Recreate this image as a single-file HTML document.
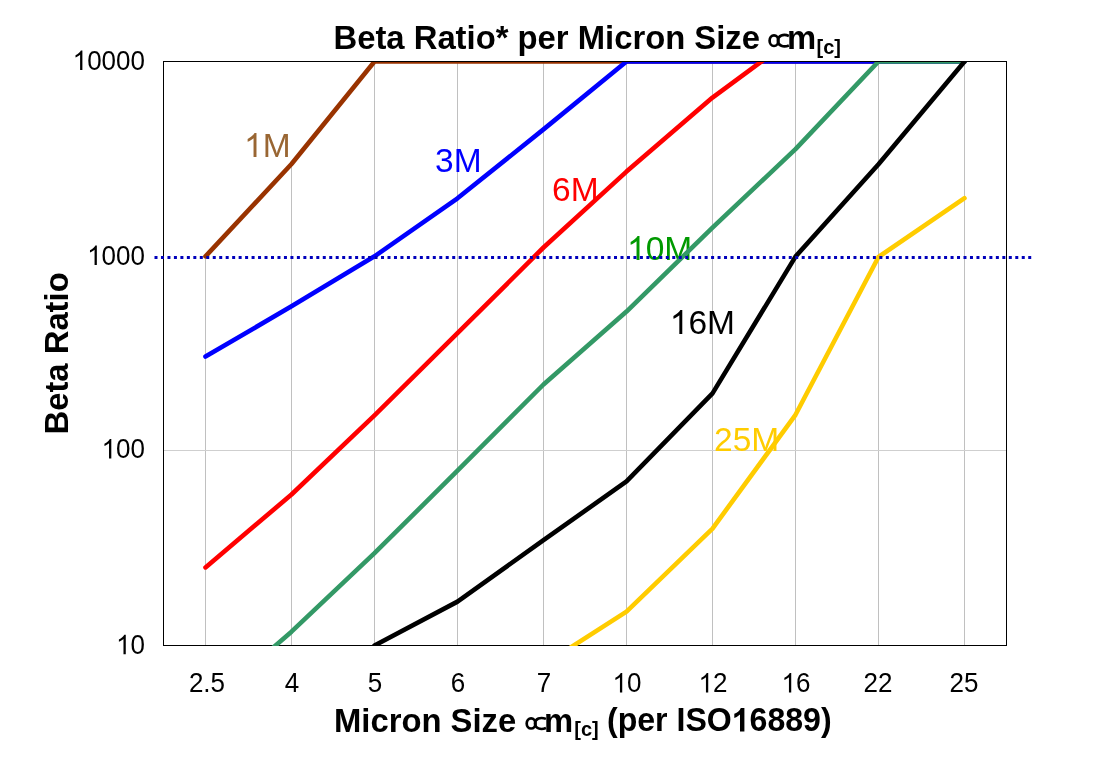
<!DOCTYPE html>
<html><head><meta charset="utf-8"><style>
html,body{margin:0;padding:0;background:#fff;}
svg{display:block;will-change:transform;}
text{font-family:"Liberation Sans",sans-serif;}
</style></head><body>
<svg width="1111" height="770" viewBox="0 0 1111 770">
<defs><clipPath id="pa"><rect x="164" y="62" width="842" height="584"/></clipPath></defs>
<g stroke="#c0c0c0" stroke-width="1">
<line x1="205.5" y1="256.4" x2="205.5" y2="646"/>
<line x1="291.5" y1="164.0" x2="291.5" y2="646"/>
<line x1="374.5" y1="61.5" x2="374.5" y2="646"/>
<line x1="457.5" y1="61.5" x2="457.5" y2="646"/>
<line x1="543.5" y1="61.5" x2="543.5" y2="646"/>
<line x1="626.5" y1="61.5" x2="626.5" y2="646"/>
<line x1="712.5" y1="61.5" x2="712.5" y2="646"/>
<line x1="795.5" y1="61.5" x2="795.5" y2="646"/>
<line x1="878.5" y1="61.5" x2="878.5" y2="646"/>
<line x1="964.5" y1="61.5" x2="964.5" y2="646"/>
<line x1="163" y1="450.5" x2="1006" y2="450.5" stroke="#cfcfcf"/>
</g>
<rect x="163.5" y="61.5" width="843" height="584" fill="none" stroke="#000" stroke-width="1"/>
<text x="244.00" y="157" font-size="33.5" fill="#996633"><tspan fill="transparent">1</tspan>M</text><path transform="translate(244.00,157) scale(0.01636,-0.01636)" fill="#996633" d="M763,0 L583,0 L583,1147 Q518,1085 412,1023 Q306,961 222,930 L222,1104 Q373,1175 486,1276 Q599,1377 646,1466 L763,1466 Z"/>
<text x="435.00" y="172" font-size="33.5" fill="#0000FF">3M</text>
<text x="552.00" y="201" font-size="33.5" fill="#FF0000">6M</text>
<text x="627.00" y="260" font-size="33.5" fill="#009900"><tspan fill="transparent">1</tspan>0M</text><path transform="translate(627.00,260) scale(0.01636,-0.01636)" fill="#009900" d="M763,0 L583,0 L583,1147 Q518,1085 412,1023 Q306,961 222,930 L222,1104 Q373,1175 486,1276 Q599,1377 646,1466 L763,1466 Z"/>
<text x="669.80" y="334" font-size="33.5" fill="#000"><tspan fill="transparent">1</tspan>6M</text><path transform="translate(669.80,334) scale(0.01636,-0.01636)" fill="#000" d="M763,0 L583,0 L583,1147 Q518,1085 412,1023 Q306,961 222,930 L222,1104 Q373,1175 486,1276 Q599,1377 646,1466 L763,1466 Z"/>
<text x="714.00" y="451" font-size="33.5" fill="#FFCC00">25M</text>
<g clip-path="url(#pa)" fill="none" stroke-width="4.6" stroke-linejoin="round" stroke-linecap="round">
<path d="M205.5,256.4 L291.5,164.0 L374.5,61.5 L457.5,61.5 L543.5,61.5 L626.5,61.5 L712.5,61.5 L795.5,61.5 L878.5,61.5 L964.5,61.5" stroke="#993300"/>
<path d="M205.5,356.6 L291.5,306.3 L374.5,256.3 L457.5,198.3 L543.5,129.4 L626.5,61.5 L712.5,61.5 L795.5,61.5 L878.5,61.5 L964.5,61.5" stroke="#0000FF"/>
<path d="M205.5,567.4 L291.5,494.5 L374.5,415.4 L457.5,333.2 L543.5,247.5 L626.5,171.6 L712.5,97.6 L795.5,36.4" stroke="#FF0000"/>
<path d="M205.5,706.3 L291.5,631.7 L374.5,553.2 L457.5,470.7 L543.5,384.5 L626.5,311.6 L712.5,227.6 L795.5,149.2 L878.5,61.5 L964.5,61.5" stroke="#339966"/>
<path d="M374.5,645.5 L457.5,601.6 L543.5,540.2 L626.5,481.4 L712.5,393.4 L795.5,256.6 L878.5,164.2 L964.5,61.5" stroke="#000000"/>
<path d="M543.5,664.9 L626.5,611.6 L712.5,528.6 L795.5,414.8 L878.5,257.0 L964.5,198.2" stroke="#FFCC00"/>
</g>
<line x1="154.5" y1="257.5" x2="1033" y2="257.5" stroke="#0000BB" stroke-width="3" stroke-dasharray="3 3.472"/>
<g transform="translate(72.70,70) scale(1.0,1.05) translate(-72.70,-70)"><text x="72.70" y="70" font-size="26" fill="#000"><tspan fill="transparent">1</tspan>0000</text><path transform="translate(72.70,70) scale(0.01270,-0.01270)" fill="#000" d="M763,0 L583,0 L583,1147 Q518,1085 412,1023 Q306,961 222,930 L222,1104 Q373,1175 486,1276 Q599,1377 646,1466 L763,1466 Z"/></g>
<g transform="translate(87.16,265) scale(1.0,1.05) translate(-87.16,-265)"><text x="87.16" y="265" font-size="26" fill="#000"><tspan fill="transparent">1</tspan>000</text><path transform="translate(87.16,265) scale(0.01270,-0.01270)" fill="#000" d="M763,0 L583,0 L583,1147 Q518,1085 412,1023 Q306,961 222,930 L222,1104 Q373,1175 486,1276 Q599,1377 646,1466 L763,1466 Z"/></g>
<g transform="translate(101.62,458.5) scale(1.0,1.05) translate(-101.62,-458.5)"><text x="101.62" y="458.5" font-size="26" fill="#000"><tspan fill="transparent">1</tspan>00</text><path transform="translate(101.62,458.5) scale(0.01270,-0.01270)" fill="#000" d="M763,0 L583,0 L583,1147 Q518,1085 412,1023 Q306,961 222,930 L222,1104 Q373,1175 486,1276 Q599,1377 646,1466 L763,1466 Z"/></g>
<g transform="translate(116.08,654.2) scale(1.0,1.05) translate(-116.08,-654.2)"><text x="116.08" y="654.2" font-size="26" fill="#000"><tspan fill="transparent">1</tspan>0</text><path transform="translate(116.08,654.2) scale(0.01270,-0.01270)" fill="#000" d="M763,0 L583,0 L583,1147 Q518,1085 412,1023 Q306,961 222,930 L222,1104 Q373,1175 486,1276 Q599,1377 646,1466 L763,1466 Z"/></g>
<g transform="translate(188.93,692.5) scale(1.0,1.05) translate(-188.93,-692.5)"><text x="188.93" y="692.5" font-size="26" fill="#000">2.5</text></g>
<g transform="translate(284.77,692.5) scale(1.0,1.05) translate(-284.77,-692.5)"><text x="284.77" y="692.5" font-size="26" fill="#000">4</text></g>
<g transform="translate(367.77,692.5) scale(1.0,1.05) translate(-367.77,-692.5)"><text x="367.77" y="692.5" font-size="26" fill="#000">5</text></g>
<g transform="translate(450.77,692.5) scale(1.0,1.05) translate(-450.77,-692.5)"><text x="450.77" y="692.5" font-size="26" fill="#000">6</text></g>
<g transform="translate(536.77,692.5) scale(1.0,1.05) translate(-536.77,-692.5)"><text x="536.77" y="692.5" font-size="26" fill="#000">7</text></g>
<g transform="translate(612.54,692.5) scale(1.0,1.05) translate(-612.54,-692.5)"><text x="612.54" y="692.5" font-size="26" fill="#000"><tspan fill="transparent">1</tspan>0</text><path transform="translate(612.54,692.5) scale(0.01270,-0.01270)" fill="#000" d="M763,0 L583,0 L583,1147 Q518,1085 412,1023 Q306,961 222,930 L222,1104 Q373,1175 486,1276 Q599,1377 646,1466 L763,1466 Z"/></g>
<g transform="translate(698.54,692.5) scale(1.0,1.05) translate(-698.54,-692.5)"><text x="698.54" y="692.5" font-size="26" fill="#000"><tspan fill="transparent">1</tspan>2</text><path transform="translate(698.54,692.5) scale(0.01270,-0.01270)" fill="#000" d="M763,0 L583,0 L583,1147 Q518,1085 412,1023 Q306,961 222,930 L222,1104 Q373,1175 486,1276 Q599,1377 646,1466 L763,1466 Z"/></g>
<g transform="translate(781.54,692.5) scale(1.0,1.05) translate(-781.54,-692.5)"><text x="781.54" y="692.5" font-size="26" fill="#000"><tspan fill="transparent">1</tspan>6</text><path transform="translate(781.54,692.5) scale(0.01270,-0.01270)" fill="#000" d="M763,0 L583,0 L583,1147 Q518,1085 412,1023 Q306,961 222,930 L222,1104 Q373,1175 486,1276 Q599,1377 646,1466 L763,1466 Z"/></g>
<g transform="translate(863.54,692.5) scale(1.0,1.05) translate(-863.54,-692.5)"><text x="863.54" y="692.5" font-size="26" fill="#000">22</text></g>
<g transform="translate(949.54,692.5) scale(1.0,1.05) translate(-949.54,-692.5)"><text x="949.54" y="692.5" font-size="26" fill="#000">25</text></g>
<g font-weight="bold" fill="#000">
<text x="333.5" y="48.8" font-size="32.8">Beta Ratio* per Micron Size</text>
<g transform="translate(768.4,34.2) scale(1.000,1.000)" fill="none" stroke="#000" stroke-width="2.7"><ellipse cx="5.6" cy="6.5" rx="4.4" ry="5.3"/><path d="M20.5,1.8 C15,-0.6 9.5,1.5 9.5,6.5 C9.5,11.5 15,13.6 20.5,11.2"/></g>
<text x="786.9" y="49" font-size="32.8">m</text>
<text x="816.5" y="53.7" font-size="20">[c]</text>
<text x="334" y="731.5" font-size="32.8">Micron Size</text>
<g transform="translate(525.5,717.2) scale(1.000,0.962)" fill="none" stroke="#000" stroke-width="2.7"><ellipse cx="5.6" cy="6.5" rx="4.4" ry="5.3"/><path d="M20.5,1.8 C15,-0.6 9.5,1.5 9.5,6.5 C9.5,11.5 15,13.6 20.5,11.2"/></g>
<text x="544.1" y="731.5" font-size="32.8">m</text>
<text x="574.3" y="735.7" font-size="20">[c]</text>
<g transform="translate(607.00,731.5) scale(0.978,1.0) translate(-607.00,-731.5)"><text x="607.00" y="731.5" font-size="32.8" font-weight="bold" fill="#000">(per ISO<tspan fill="transparent">1</tspan>6889)</text><path transform="translate(734.58,731.5) scale(0.01602,-0.01602)" fill="#000" d="M806,0 L525,0 L525,1059 Q371,915 162,846 L162,1101 Q272,1137 401,1237 Q530,1337 578,1466 L806,1466 Z"/></g>
<text transform="translate(68.3,434.5) rotate(-90)" font-size="32.8">Beta Ratio</text>
</g>
</svg>
</body></html>
